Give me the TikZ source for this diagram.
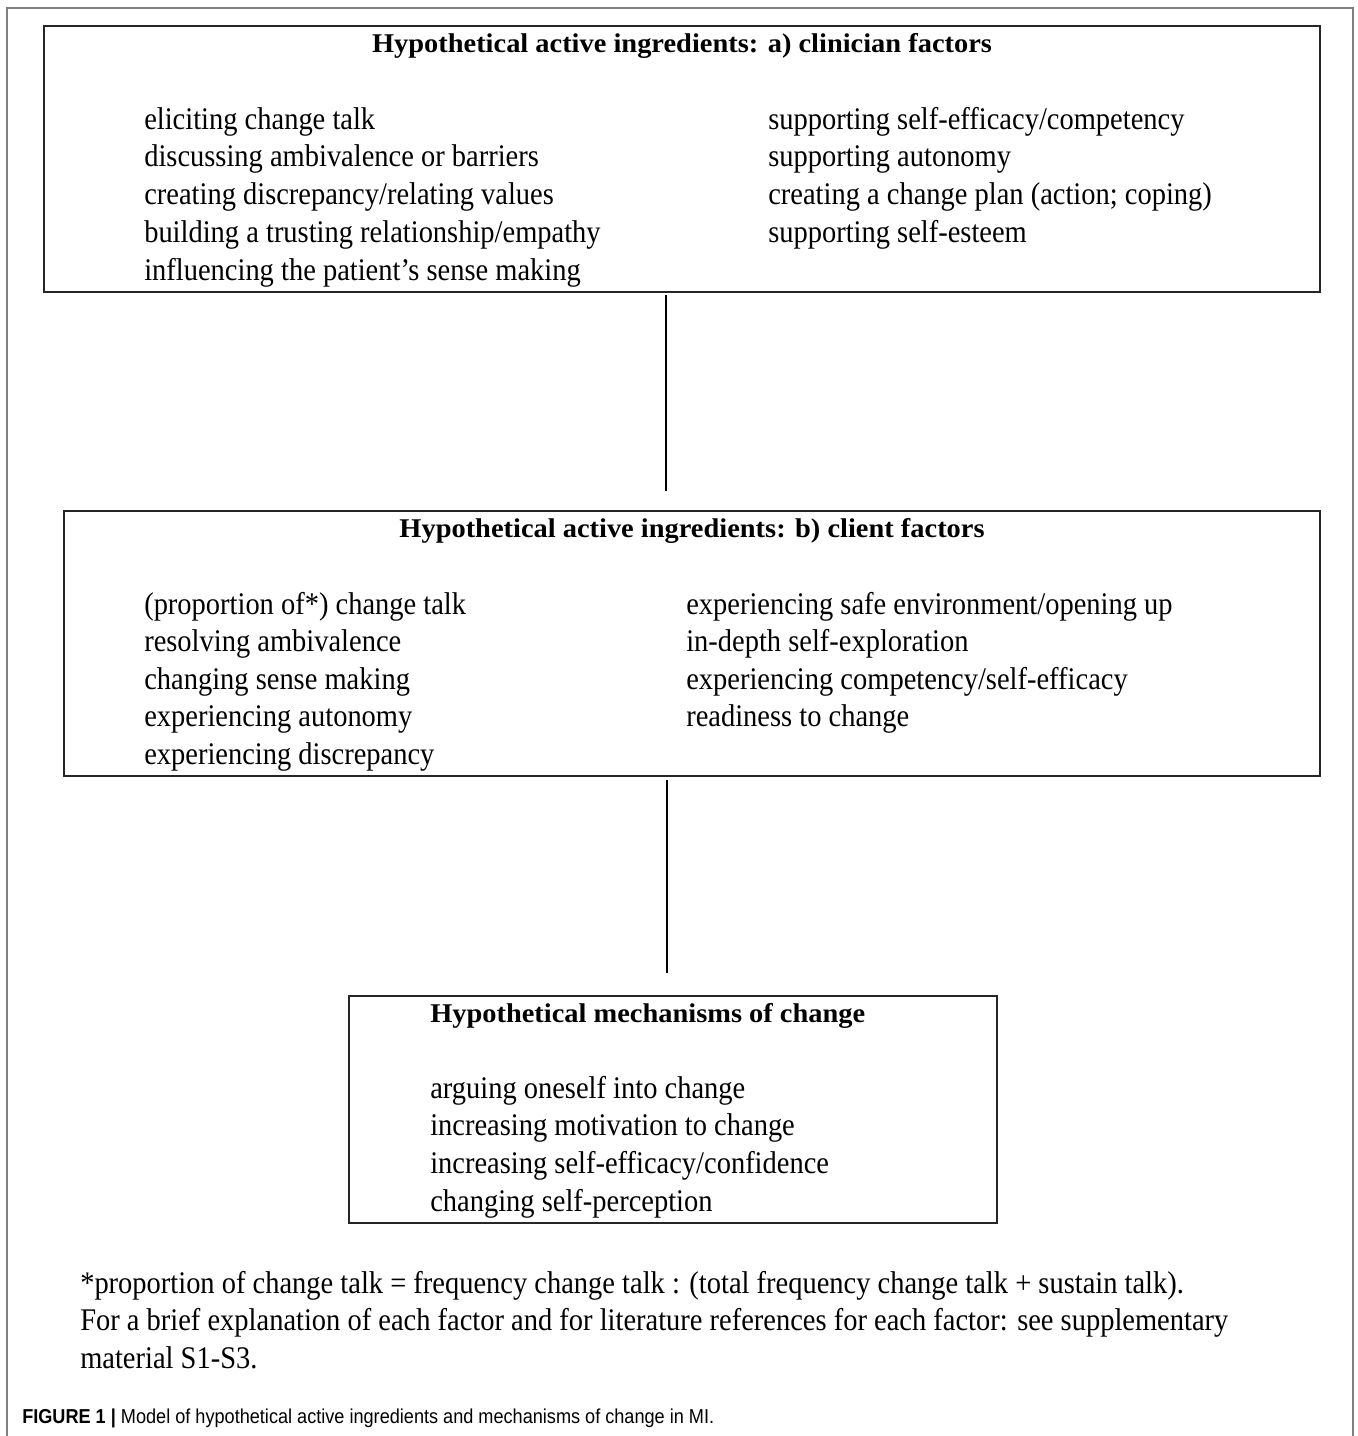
\documentclass[tikz,border=0pt]{standalone}
\usepackage{fontspec}
\setmainfont{Liberation Serif}[FakeStretch=0.905]
\newfontfamily\titlefont{Liberation Serif}[FakeStretch=1.05]
\newfontfamily\capfont{Liberation Sans}[FakeStretch=0.9]
\usetikzlibrary{fit}
\begin{document}
\begin{tikzpicture}[x=0.75pt,y=-0.75pt,
  box/.style={draw=black!85,line width=1.3pt,inner sep=0pt},
  link/.style={draw=black,line width=2.2pt},
  frame/.style={draw=black!50,line width=1.2pt},
  bodytxt/.style={anchor=base west,inner sep=0pt,font=\fontsize{23.6pt}{28pt}\selectfont},
  titletxt/.style={inner sep=0pt,font=\titlefont\bfseries\fontsize{20.3pt}{24pt}\selectfont},
  captxt/.style={anchor=base west,inner sep=0pt,font=\capfont\fontsize{15.1pt}{18pt}\selectfont}]
\useasboundingbox (0,0) rectangle (1358,1436);
% outer frame
\coordinate (f1) at (7,1436);
\coordinate (f2) at (7,8);
\coordinate (f3) at (1353,8);
\coordinate (f4) at (1353,1436);
\draw[frame] (f1) -- (f2) -- (f3) -- (f4);
% boxes
\coordinate (a1) at (44,26); \coordinate (a2) at (1320,292);
\node[box,fit=(a1)(a2)] (boxA) {};
\coordinate (b1) at (64,511); \coordinate (b2) at (1320,776);
\node[box,fit=(b1)(b2)] (boxB) {};
\coordinate (c1) at (349,996); \coordinate (c2) at (997,1223);
\node[box,fit=(c1)(c2)] (boxC) {};
% connectors
\coordinate (l1a) at (666,295); \coordinate (l1b) at (666,491);
\coordinate (l2a) at (667,780); \coordinate (l2b) at (667,973);
\draw[link] (l1a) -- (l1b);
\draw[link] (l2a) -- (l2b);
% titles
\node[titletxt,anchor=base] (tA) at (682,52.5) {Hypothetical active ingredients: a) clinician factors};
\node[titletxt,anchor=base] (tB) at (692,537.5) {Hypothetical active ingredients: b) client factors};
\node[titletxt,anchor=base west] (tC) at (430,1022.5) {Hypothetical mechanisms of change};
% box A
\foreach \t [count=\i from 0] in {eliciting change talk,discussing ambivalence or barriers,creating discrepancy/relating values,building a trusting relationship/empathy,influencing the patient’s sense making}
  \node[bodytxt] (al\i) at (144,129+37.8*\i) {\t};
\foreach \t [count=\i from 0] in {supporting self-efficacy/competency,supporting autonomy,creating a change plan (action; coping),supporting self-esteem}
  \node[bodytxt] (ar\i) at (768,129+37.8*\i) {\t};
% box B
\foreach \t [count=\i from 0] in {(proportion of*) change talk,resolving ambivalence,changing sense making,experiencing autonomy,experiencing discrepancy}
  \node[bodytxt] (bl\i) at (144,614+37.6*\i) {\t};
\foreach \t [count=\i from 0] in {experiencing safe environment/opening up,in-depth self-exploration,experiencing competency/self-efficacy,readiness to change}
  \node[bodytxt] (br\i) at (686,614+37.6*\i) {\t};
% box C
\foreach \t [count=\i from 0] in {arguing oneself into change,increasing motivation to change,increasing self-efficacy/confidence,changing self-perception}
  \node[bodytxt] (cl\i) at (430,1098+37.7*\i) {\t};
% footnote
\node[bodytxt] (n0) at (80,1293) {*proportion of change talk = frequency change talk : (total frequency change talk + sustain talk).};
\node[bodytxt] (n1) at (80,1330.5) {For a brief explanation of each factor and for literature references for each factor: see supplementary};
\node[bodytxt] (n2) at (80,1368) {material S1-S3.};
% caption
\node[captxt] (cap) at (22,1423) {\textbf{FIGURE 1 |} Model of hypothetical active ingredients and mechanisms of change in MI.};
\end{tikzpicture}
\end{document}
